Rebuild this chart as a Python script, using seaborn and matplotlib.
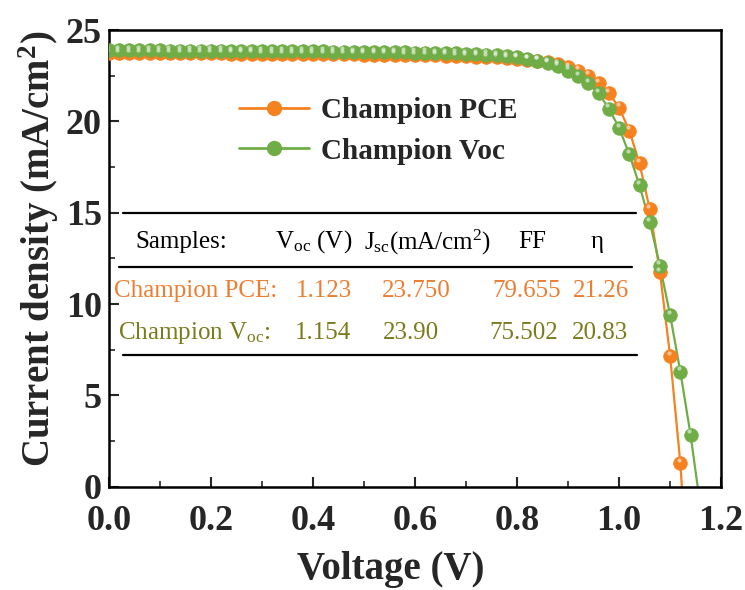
import numpy as np
import pandas as pd
import matplotlib
matplotlib.use("Agg")
import matplotlib.pyplot as plt
from matplotlib.lines import Line2D
import seaborn as sns

# J-V curves of the two champion devices (voltage in V, current density in mA/cm2)
v_pce = np.round(np.arange(0.0, 1.1201, 0.02), 2)
j_pce = [23.75, 23.75, 23.75, 23.74, 23.74, 23.74, 23.73, 23.73, 23.73, 23.72,
         23.72, 23.72, 23.71, 23.71, 23.71, 23.70, 23.70, 23.70, 23.69, 23.69,
         23.69, 23.68, 23.68, 23.67, 23.67, 23.66, 23.66, 23.65, 23.65, 23.64,
         23.63, 23.62, 23.61, 23.60, 23.58, 23.57, 23.55, 23.53, 23.50, 23.47,
         23.43, 23.38, 23.32, 23.24, 23.13, 22.98, 22.78, 22.50, 22.10, 21.55,
         20.75, 19.50, 17.70, 15.20, 11.75, 7.15, 1.30]
voc_pce = 1.123

v_voc = np.round(np.arange(0.0, 1.1401, 0.02), 2)
j_voc = [23.90, 23.90, 23.90, 23.89, 23.89, 23.89, 23.88, 23.88, 23.88, 23.87,
         23.87, 23.87, 23.86, 23.86, 23.86, 23.85, 23.85, 23.85, 23.84, 23.84,
         23.83, 23.83, 23.82, 23.82, 23.81, 23.81, 23.80, 23.79, 23.79, 23.78,
         23.77, 23.76, 23.75, 23.74, 23.72, 23.70, 23.68, 23.65, 23.61, 23.56,
         23.50, 23.42, 23.32, 23.20, 23.02, 22.78, 22.48, 22.08, 21.55, 20.70,
         19.65, 18.20, 16.50, 14.50, 12.10, 9.40, 6.30, 2.85]
voc_voc = 1.154

series_names = ["Champion PCE", "Champion Voc"]
line_colors = ["#F5821F", "#70AD47"]

# Photovoltaic parameters table
table_header = ["Samples:", r"V$_\mathregular{oc}$ (V)", r"J$_\mathregular{sc}$(mA/cm$^\mathregular{2}$)", "FF", "η"]
table_rows = [r"Champion PCE:", r"Champion V$_\mathregular{oc}$:"]
table_voc = ["1.123", "1.154"]
table_jsc = ["23.750", "23.90"]
table_ff = ["79.655", "75.502"]
table_eta = ["21.26", "20.83"]
table_colors = ["#ED7D31", "#7A7C1C"]

sns.set_theme(style="ticks")
plt.rcParams["font.family"] = ["Liberation Serif", "DejaVu Serif"]
plt.rcParams["mathtext.fontset"] = "custom"
plt.rcParams["mathtext.rm"] = "Liberation Serif"
plt.rcParams["mathtext.it"] = "Liberation Serif:italic"
plt.rcParams["mathtext.bf"] = "Liberation Serif:bold"

fig = plt.figure(figsize=(7.45, 5.90), dpi=100)
ax = fig.add_axes([0.146, 0.175, 0.822, 0.774])

curves = [(v_pce, j_pce, voc_pce), (v_voc, j_voc, voc_voc)]
for (v, j, voc), name, col in zip(curves, series_names, line_colors):
    df = pd.DataFrame({"V": list(v) + [voc], "J": list(j) + [0.0]})
    sns.lineplot(data=df, x="V", y="J", ax=ax, color=col, lw=1.6,
                 sort=False, estimator=None)
    pts = pd.DataFrame({"V": v, "J": j})
    sns.scatterplot(data=pts, x="V", y="J", ax=ax, color=col, s=95,
                    edgecolor=col, linewidth=0.6, zorder=3)
    # small glossy highlight on each ball marker
    ax.scatter(np.asarray(v) - 0.003, np.asarray(j) + 0.18, s=9,
               color="white", alpha=0.55, linewidths=0, zorder=4)

ax.set_xlim(0, 1.2)
ax.set_ylim(0, 25)
ax.set_xticks(np.arange(0, 1.21, 0.2))
ax.set_xticks(np.arange(0.1, 1.2, 0.2), minor=True)
ax.set_yticks(np.arange(0, 26, 5))
ax.set_yticks(np.arange(2.5, 25, 5), minor=True)
ax.xaxis.set_major_formatter(matplotlib.ticker.FormatStrFormatter("%.1f"))
ax.tick_params(which="major", direction="in", length=7, width=1.5,
               labelsize=26, top=False, right=False)
ax.tick_params(axis="x", which="major", pad=13)
ax.tick_params(axis="y", which="major", pad=5)
ax.tick_params(which="minor", direction="in", length=4, width=1.2,
               top=False, right=False)
for lab in ax.get_xticklabels() + ax.get_yticklabels():
    lab.set_fontweight("bold")
for sp in ax.spines.values():
    sp.set_linewidth(1.8)
    sp.set_color("black")

ax.set_xlabel("Voltage (V)", fontsize=28, fontweight="bold")
ax.xaxis.set_label_coords(0.461, -0.14)
ax.set_ylabel("Current density (mA/cm$^\\mathbf{2}$)", fontsize=28,
              fontweight="bold")
ax.yaxis.set_label_coords(-0.078, 0.52)

handles = [Line2D([], [], color=c, lw=2, marker="o", markersize=10,
                  markeredgecolor=c) for c in line_colors]
ax.legend(handles, series_names, loc="upper left",
          bbox_to_anchor=(0.17, 0.91), frameon=False,
          prop={"family": "Liberation Serif", "weight": "bold", "size": 21},
          handlelength=2.4, handletextpad=0.4, labelspacing=0.45)

# parameter table drawn inside the axes
for y, x0, x1 in [(15.0, 0.027, 1.033), (12.04, 0.021, 1.026), (7.22, 0.027, 1.035)]:
    ax.plot([x0, x1], [y, y], color="black", lw=1.6)

tfs = 18
head_x = [0.143, 0.402, 0.625, 0.829, 0.957]
for txt, x in zip(table_header, head_x):
    ax.text(x, 13.4, txt, ha="center", va="center", fontsize=tfs, color="black")

row_y = [10.72, 8.42]
row_left = [0.0098, 0.0176]
col_x = [[0.4216, 0.602, 0.818, 0.965], [0.420, 0.592, 0.814, 0.963]]
for i in range(2):
    c = table_colors[i]
    ax.text(row_left[i], row_y[i], table_rows[i], ha="left", va="center",
            fontsize=tfs, color=c)
    vals = [table_voc[i], table_jsc[i], table_ff[i], table_eta[i]]
    for val, x in zip(vals, col_x[i]):
        ax.text(x, row_y[i], val, ha="center", va="center", fontsize=tfs, color=c)

fig.savefig("out.png", dpi=100)
